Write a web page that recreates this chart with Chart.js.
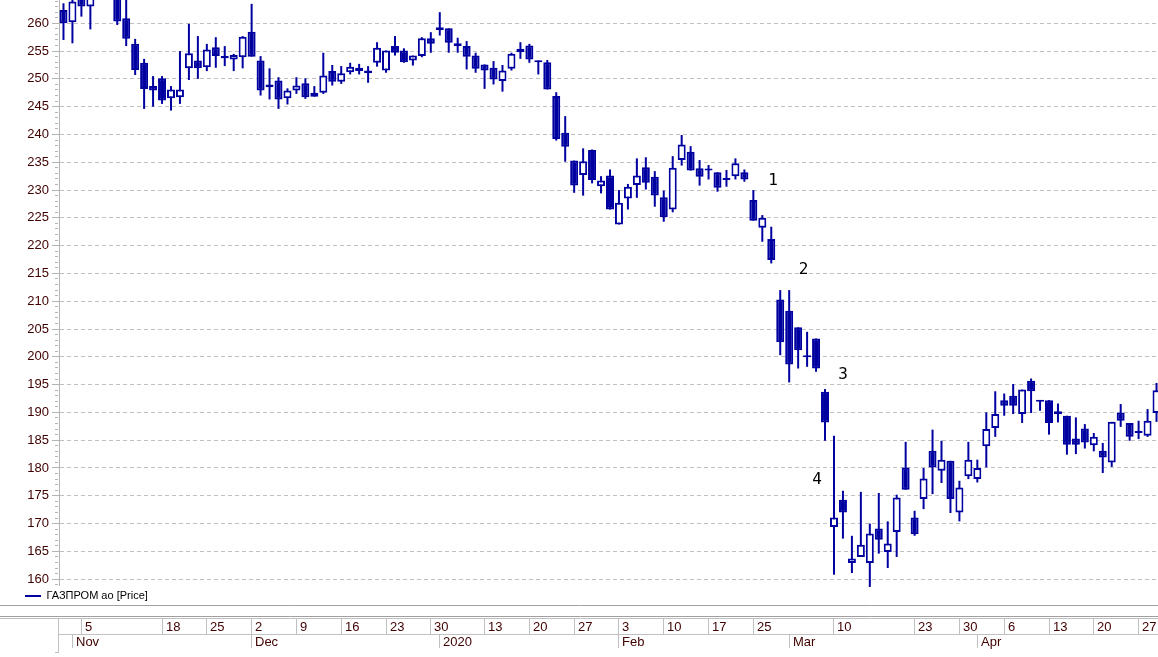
<!DOCTYPE html>
<html>
<head>
<meta charset="utf-8">
<title>ГАЗПРОМ ао</title>
<script src="https://cdn.jsdelivr.net/npm/chart.js@4.4.1/dist/chart.umd.min.js"></script>
<style>
  html, body { margin: 0; padding: 0; background: #fff; overflow: hidden; }
  canvas { display: block; }
</style>
</head>
<body>
<canvas id="price-chart" width="1161" height="657"></canvas>
<script>
// Trading days (MOEX calendar), one candle each
const tradeDates = [
  '2019-10-31', '2019-11-01', '2019-11-05', '2019-11-06', '2019-11-07', '2019-11-08',
  '2019-11-11', '2019-11-12', '2019-11-13', '2019-11-14', '2019-11-15',
  '2019-11-18', '2019-11-19', '2019-11-20', '2019-11-21', '2019-11-22',
  '2019-11-25', '2019-11-26', '2019-11-27', '2019-11-28', '2019-11-29',
  '2019-12-02', '2019-12-03', '2019-12-04', '2019-12-05', '2019-12-06',
  '2019-12-09', '2019-12-10', '2019-12-11', '2019-12-12', '2019-12-13',
  '2019-12-16', '2019-12-17', '2019-12-18', '2019-12-19', '2019-12-20',
  '2019-12-23', '2019-12-24', '2019-12-25', '2019-12-26', '2019-12-27',
  '2019-12-30', '2020-01-03', '2020-01-06', '2020-01-08', '2020-01-09', '2020-01-10',
  '2020-01-13', '2020-01-14', '2020-01-15', '2020-01-16', '2020-01-17',
  '2020-01-20', '2020-01-21', '2020-01-22', '2020-01-23', '2020-01-24',
  '2020-01-27', '2020-01-28', '2020-01-29', '2020-01-30', '2020-01-31',
  '2020-02-03', '2020-02-04', '2020-02-05', '2020-02-06', '2020-02-07',
  '2020-02-10', '2020-02-11', '2020-02-12', '2020-02-13', '2020-02-14',
  '2020-02-17', '2020-02-18', '2020-02-19', '2020-02-20', '2020-02-21',
  '2020-02-25', '2020-02-26', '2020-02-27', '2020-02-28',
  '2020-03-02', '2020-03-03', '2020-03-04', '2020-03-05', '2020-03-06',
  '2020-03-10', '2020-03-11', '2020-03-12', '2020-03-13',
  '2020-03-16', '2020-03-17', '2020-03-18', '2020-03-19', '2020-03-20',
  '2020-03-23', '2020-03-24', '2020-03-25', '2020-03-26', '2020-03-27',
  '2020-03-30', '2020-03-31', '2020-04-01', '2020-04-02', '2020-04-03',
  '2020-04-06', '2020-04-07', '2020-04-08', '2020-04-09', '2020-04-10',
  '2020-04-13', '2020-04-14', '2020-04-15', '2020-04-16', '2020-04-17',
  '2020-04-20', '2020-04-21', '2020-04-22', '2020-04-23', '2020-04-24',
  '2020-04-27', '2020-04-28', '2020-04-29'
];

const openPrices = [
  262.4, 260.2, 265.8, 263.0, 266.5, 268.6, 266.0, 260.9, 256.3, 252.9,
  248.7, 250.1, 246.5, 246.7, 251.9, 253.3, 252.1, 255.7, 254.1, 253.5,
  253.9, 258.5, 253.3, 249.0, 249.7, 246.5, 247.9, 249.2, 246.8, 247.5,
  251.4, 249.5, 251.2, 252.0, 251.5, 252.9, 251.5, 255.9, 255.1, 253.3,
  254.1, 257.3, 259.3, 259.1, 256.4, 255.9, 254.2, 252.6, 252.0, 249.6,
  251.8, 254.8, 256.0, 253.3, 253.0, 246.9, 240.3, 235.3, 232.7, 237.2,
  230.7, 232.6, 223.8, 228.5, 230.9, 234.1, 232.4, 228.7, 226.5, 235.4,
  236.9, 233.9, 233.8, 233.2, 232.0, 232.5, 233.2, 228.2, 223.2, 221.2,
  210.3, 208.3, 205.3, 200.1, 203.3, 193.7, 169.4, 174.3, 162.9, 164.0,
  162.9, 169.1, 164.9, 168.5, 180.1, 171.1, 174.4, 183.1, 179.5, 181.3,
  172.0, 178.5, 178.0, 183.9, 187.2, 192.2, 193.0, 189.7, 195.7, 192.2,
  192.2, 190.2, 189.4, 185.3, 187.1, 184.1, 183.1, 181.0, 190.0, 188.1,
  186.5, 185.8, 189.9
];
const highPrices = [
  263.6, 265.5, 267.0, 268.0, 269.3, 269.9, 266.8, 264.6, 257.2, 253.6,
  250.5, 250.5, 248.7, 255.0, 259.9, 257.7, 256.3, 257.5, 255.9, 254.5,
  257.7, 263.5, 254.1, 251.9, 250.3, 248.3, 250.3, 250.1, 248.7, 254.7,
  252.5, 252.3, 252.9, 252.7, 252.3, 256.6, 255.1, 257.7, 255.5, 254.2,
  257.5, 258.4, 262.0, 259.1, 257.4, 256.8, 254.7, 252.6, 253.2, 252.5,
  254.7, 256.6, 256.3, 253.3, 253.4, 247.6, 243.3, 235.3, 237.5, 237.3,
  232.5, 233.7, 230.0, 231.1, 235.7, 235.9, 233.4, 229.9, 236.1, 239.9,
  237.9, 235.4, 234.5, 233.2, 233.6, 235.7, 233.7, 230.0, 225.5, 223.4,
  212.0, 212.0, 205.3, 204.5, 203.3, 194.2, 185.8, 175.9, 167.8, 175.7,
  170.0, 175.5, 170.4, 175.2, 184.7, 172.3, 180.0, 186.9, 184.9, 181.3,
  177.7, 184.7, 181.5, 190.0, 193.8, 193.4, 195.1, 194.1, 196.1, 192.2,
  192.2, 191.6, 189.4, 189.1, 187.9, 186.3, 184.5, 188.3, 191.5, 188.1,
  188.5, 190.6, 195.3
];
const lowPrices = [
  257.0, 256.4, 261.2, 258.9, 265.2, 265.5, 259.7, 255.9, 250.7, 244.6,
  245.0, 245.5, 244.3, 245.5, 249.8, 250.0, 251.4, 252.0, 252.3, 251.4,
  251.9, 254.0, 247.0, 246.3, 244.6, 245.4, 247.3, 246.4, 246.8, 247.3,
  248.8, 249.1, 250.8, 250.8, 249.3, 252.2, 251.1, 254.2, 252.9, 252.4,
  253.9, 254.7, 257.8, 254.7, 254.7, 251.7, 251.1, 248.2, 249.0, 247.7,
  251.5, 253.6, 252.9, 250.8, 248.1, 238.9, 235.1, 229.5, 229.0, 231.2,
  229.4, 226.5, 223.8, 226.5, 228.6, 230.1, 227.0, 224.3, 226.0, 234.4,
  233.5, 230.8, 231.9, 229.7, 230.6, 231.9, 231.5, 224.5, 220.7, 216.8,
  200.3, 195.4, 197.9, 198.2, 197.3, 184.9, 160.8, 167.3, 161.1, 164.0,
  158.6, 164.6, 162.0, 164.0, 176.1, 167.8, 172.6, 175.3, 177.3, 171.9,
  170.4, 178.0, 177.4, 180.1, 185.6, 189.4, 189.7, 188.1, 189.9, 190.3,
  186.0, 188.2, 182.4, 182.5, 183.5, 183.0, 179.1, 180.2, 187.4, 184.9,
  185.2, 185.6, 188.3
];
const closePrices = [
  260.0, 263.9, 263.0, 266.5, 268.6, 266.2, 260.3, 257.2, 251.6, 248.2,
  247.9, 246.1, 248.1, 248.1, 254.6, 251.9, 255.3, 254.1, 253.7, 254.3,
  257.6, 254.0, 247.9, 248.5, 246.3, 247.9, 248.8, 246.7, 247.5, 250.6,
  249.5, 251.0, 252.2, 251.4, 251.0, 255.6, 255.1, 254.7, 253.0, 254.2,
  257.3, 256.3, 258.8, 256.5, 255.9, 254.0, 251.8, 251.5, 249.9, 251.5,
  254.5, 255.4, 253.5, 253.0, 248.1, 239.2, 237.8, 230.8, 235.2, 231.8,
  231.7, 226.5, 227.7, 230.6, 232.6, 231.3, 229.0, 225.1, 234.0, 238.2,
  233.5, 232.4, 233.5, 230.4, 231.8, 234.8, 231.9, 224.5, 225.0, 217.4,
  202.6, 198.6, 201.2, 199.9, 197.9, 188.2, 171.1, 172.0, 163.7, 166.2,
  168.2, 167.1, 166.4, 174.7, 176.1, 168.1, 178.1, 180.1, 181.5, 174.4,
  176.5, 181.5, 180.0, 187.0, 189.7, 191.2, 191.2, 194.1, 193.8, 191.9,
  188.1, 189.7, 184.2, 184.2, 184.6, 185.6, 181.9, 188.3, 188.5, 185.6,
  186.3, 188.5, 194.0
];

// Price axis: labelled ticks every 5, small marks every 1
const yMajorTicks = [160, 165, 170, 175, 180, 185, 190, 195, 200, 205, 210,
  215, 220, 225, 230, 235, 240, 245, 250, 255, 260];

// Date strip: week row and month row
const weekTickDates = [
  '2019-11-05', '2019-11-18', '2019-11-25', '2019-12-02', '2019-12-09', '2019-12-16',
  '2019-12-23', '2019-12-30', '2020-01-13', '2020-01-20', '2020-01-27', '2020-02-03',
  '2020-02-10', '2020-02-17', '2020-02-25', '2020-03-10', '2020-03-23', '2020-03-30',
  '2020-04-06', '2020-04-13', '2020-04-20', '2020-04-27'
];
const monthTickDates = ['2019-11-01', '2019-12-02', '2020-01-03', '2020-02-03', '2020-03-02', '2020-04-01'];
const monthTickLabels = ['Nov', 'Dec', '2020', 'Feb', 'Mar', 'Apr'];

// Wave marks drawn on the chart (category position, price)
const markLabels = ['1', '2', '3', '4'];
const markX = [79.2, 82.6, 87.0, 84.1];
const markY = [231.7, 215.7, 196.8, 177.8];

const SERIES_NAME = 'ГАЗПРОМ ао [Price]';
const CANDLE_BLUE = '#0000a0';
const LABEL_COLOR = '#400000';
const AXIS_GRAY = '#b4b4b4';
const GRID_GRAY = '#c0c0c0';
const TICK_FONT = "'Liberation Sans Narrow', 'Liberation Sans', Arial, sans-serif";

const candleBodies = tradeDates.map((d, i) => [openPrices[i], closePrices[i]]);
const candleWicks = tradeDates.map((d, i) => [lowPrices[i], highPrices[i]]);
const bodyFill = tradeDates.map((d, i) => closePrices[i] >= openPrices[i] ? '#ffffff' : CANDLE_BLUE);

function isMajor(value) {
  return yMajorTicks.includes(value);
}

// Two-row date strip under the legend, positioned from the x scale
const dateStripPlugin = {
  id: 'dateStrip',
  afterDraw(chart) {
    const ctx = chart.ctx;
    const xScale = chart.scales.x;
    const left = chart.chartArea.left - 0.5;
    const w = chart.width;

    const line = (x1, y1, x2, y2, color) => {
      ctx.strokeStyle = color;
      ctx.beginPath();
      ctx.moveTo(x1, y1);
      ctx.lineTo(x2, y2);
      ctx.stroke();
    };

    ctx.save();
    ctx.lineWidth = 1;
    line(0, 605.5, w, 605.5, '#a0a0a0');
    line(0, 616.5, w, 616.5, '#a0a0a0');
    line(0, 618.5, w, 618.5, GRID_GRAY);
    line(left, 619, left, 653, GRID_GRAY);
    line(55, 652.5, left, 652.5, GRID_GRAY);
    line(left, 634.5, w, 634.5, GRID_GRAY);

    ctx.font = '13px ' + TICK_FONT;
    ctx.fillStyle = LABEL_COLOR;
    ctx.textAlign = 'left';
    ctx.textBaseline = 'middle';

    weekTickDates.forEach(d => {
      const px = Math.floor(xScale.getPixelForValue(tradeDates.indexOf(d))) + 0.5;
      line(px, 619, px, 634, GRID_GRAY);
      ctx.fillText(String(Number(d.slice(8))), px + 3.5, 627);
    });

    monthTickDates.forEach((d, i) => {
      const px = Math.floor(xScale.getPixelForValue(tradeDates.indexOf(d))) + 0.5;
      line(px, 635, px, 648, GRID_GRAY);
      ctx.fillText(monthTickLabels[i], px + 3.5, 642);
    });
    ctx.restore();
  }
};

const waveMarksPlugin = {
  id: 'waveMarks',
  afterDatasetsDraw(chart) {
    const {ctx, scales: {x, y}} = chart;
    ctx.save();
    ctx.font = "16px 'DejaVu Sans Mono', monospace";
    ctx.fillStyle = '#000000';
    ctx.textAlign = 'center';
    ctx.textBaseline = 'middle';
    markLabels.forEach((t, i) => {
      ctx.fillText(t, x.getPixelForValue(markX[i]), y.getPixelForValue(markY[i]));
    });
    ctx.restore();
  }
};

const canvas = document.getElementById('price-chart');
new Chart(canvas, {
  type: 'bar',
  data: {
    labels: tradeDates,
    datasets: [
      {
        label: SERIES_NAME,
        data: candleBodies,
        backgroundColor: bodyFill,
        borderColor: CANDLE_BLUE,
        borderWidth: 2,
        borderSkipped: false,
        borderRadius: 0,
        barThickness: 8,
        minBarLength: 2,
        inflateAmount: 0,
        grouped: false,
        clip: false,
        order: 0,
      },
      {
        label: 'wicks',
        data: candleWicks,
        backgroundColor: CANDLE_BLUE,
        borderWidth: 0,
        barThickness: 2,
        inflateAmount: 0,
        grouped: false,
        clip: false,
        order: 1,
      },
    ],
  },
  options: {
    responsive: false,
    animation: false,
    devicePixelRatio: 1,
    layout: {
      padding: { top: 0, right: 0, left: 19.5, bottom: 45.5 },
    },
    plugins: {
      legend: {
        display: true,
        position: 'bottom',
        align: 'start',
        onClick: null,
        labels: {
          boxWidth: 16,
          boxHeight: 2,
          padding: 5.5,
          color: '#200000',
          font: { family: "'Liberation Sans', Arial, sans-serif", size: 11 },
          generateLabels: () => [{
            text: SERIES_NAME,
            fillStyle: CANDLE_BLUE,
            strokeStyle: CANDLE_BLUE,
            lineWidth: 0,
            hidden: false,
            datasetIndex: 0,
          }],
        },
      },
      tooltip: { enabled: false },
    },
    scales: {
      x: {
        type: 'category',
        display: false,
        offset: true,
      },
      y: {
        position: 'left',
        min: 158.95,
        max: 264.19,
        afterBuildTicks: (scale) => {
          const ticks = [];
          for (let v = 159; v <= 264; v++) ticks.push({ value: v });
          scale.ticks = ticks;
        },
        afterFit: (scale) => {
          scale.width = 39.5;
          scale.paddingTop = 0;
          scale.paddingBottom = 0;
        },
        ticks: {
          autoSkip: false,
          padding: 3,
          color: LABEL_COLOR,
          font: { family: TICK_FONT, size: 13 },
          callback: (value) => isMajor(value) ? String(value) : '',
        },
        grid: {
          color: (c) => isMajor(c.tick.value) ? GRID_GRAY : 'rgba(0,0,0,0)',
          lineWidth: 1,
          tickLength: 7,
          tickWidth: 1,
          tickColor: AXIS_GRAY,
          tickBorderDash: (c) => isMajor(c.tick.value) ? [] : [0, 3, 3, 0],
        },
        border: {
          display: true,
          color: AXIS_GRAY,
          width: 1,
          dash: [4, 3],
        },
      },
    },
  },
  plugins: [dateStripPlugin, waveMarksPlugin],
});
</script>
</body>
</html>
